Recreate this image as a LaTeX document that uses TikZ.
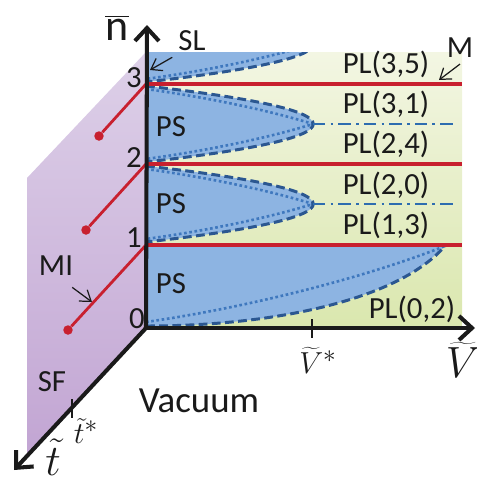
\documentclass[tikz,border=0pt]{standalone}
\usepackage{fontspec}
\setmainfont{Carlito}
\usetikzlibrary{arrows.meta,positioning,calc}
\definecolor{ink}{HTML}{1A1A1A}
\definecolor{redline}{HTML}{C8202F}
\definecolor{lobe}{HTML}{8DB4E2}
\definecolor{lobeedge}{HTML}{2B5791}
\definecolor{lobedot}{HTML}{3F78BE}
\definecolor{dashdot}{HTML}{2E6DB0}
\definecolor{plaintop}{HTML}{F3F6E3}
\definecolor{plainbot}{HTML}{DAE7AE}
\definecolor{sftop}{HTML}{DDD0E8}
\definecolor{sfbot}{HTML}{C2A5D3}
\tikzset{
  >={Straight Barb[length=2.6mm,width=4.8mm]},
  axis/.style={->,draw=ink,line width=2.3pt},
  level/.style={draw=redline,line width=2.2pt},
  mi/.style={draw=redline,line width=1.6pt},
  dot/.style={circle,fill=redline,inner sep=0pt,minimum size=0.19cm},
  lobeline/.style={draw=lobeedge,line width=1.7pt,dash pattern=on 5pt off 2.5pt},
  lobedotted/.style={draw=lobedot,line width=1.5pt,dash pattern=on 1.5pt off 1.5pt},
  split/.style={draw=dashdot,line width=1.2pt,dash pattern=on 7pt off 3pt on 1.5pt off 3pt},
  note/.style={-{Straight Barb[length=2mm,width=2.8mm]},draw=ink,line width=0.7pt},
  tick/.style={draw=ink,line width=1.6pt},
  lbl/.style={font=\fontsize{17.5}{19}\selectfont,text=ink},
  biglbl/.style={font=\fontsize{21}{23}\selectfont,text=ink},
  mathlbl/.style={font=\fontsize{19}{21}\selectfont,text=ink,inner sep=0pt},
  bigmath/.style={font=\fontsize{25}{27}\selectfont,text=ink,inner sep=0pt},
}

\begin{document}
\begin{tikzpicture}[x=0.02cm,y=-0.02cm]
\useasboundingbox (0,0) rectangle (477,481);

% planes -----------------------------------------------------------------------
\shade[top color=sftop,bottom color=sfbot] (146,52) -- (27,178) -- (27,456) -- (146,328) -- cycle;
\shade[top color=plaintop,bottom color=plainbot] (146,52) rectangle (462,328);

% PS lobes ---------------------------------------------------------------------
\begin{scope}
\clip (146,52) rectangle (462,328);
\fill[lobe] (146,6) .. controls (369,31) and (369,57) .. (146,82) -- cycle;
\fill[lobe] (146,86) .. controls (369,111) and (369,137) .. (146,162) -- cycle;
\fill[lobe] (146,166) .. controls (369,191) and (369,217) .. (146,242) -- cycle;
\fill[lobe] (146,245) -- (445,245) .. controls (400,298) and (280,326) .. (146,326) -- cycle;

\draw[lobedotted] (146,9) .. controls (205,17) and (268,30) .. (313,44) .. controls (268,58) and (205,71) .. (146,79);
\draw[lobedotted] (146,89) .. controls (205,97) and (268,110) .. (313,124) .. controls (268,138) and (205,151) .. (146,159);
\draw[lobedotted] (146,169) .. controls (205,177) and (268,190) .. (313,204) .. controls (268,218) and (205,231) .. (146,239);
\draw[lobedotted] (146,322) .. controls (251,307) and (370,276) .. (445,246);

\draw[lobeline] (146,6) .. controls (369,31) and (369,57) .. (146,82);
\draw[lobeline] (146,86) .. controls (369,111) and (369,137) .. (146,162);
\draw[lobeline] (146,166) .. controls (369,191) and (369,217) .. (146,242);
\draw[lobeline] (146,326) .. controls (280,326) and (400,298) .. (445,246);
\end{scope}

\coordinate (tip32) at (313,124);
\coordinate (tip21) at (313,204);
\coordinate (end32) at (457,124);
\coordinate (end21) at (457,204);
\draw[split] (tip32) -- (end32);
\draw[split] (tip21) -- (end21);

% levels and MI lines ----------------------------------------------------------
\coordinate (O) at (146,328);
\coordinate (n1) at (146,245);
\coordinate (n2) at (146,164);
\coordinate (n3) at (146,84);
\coordinate (m1) at (462,245);
\coordinate (m2) at (462,164);
\coordinate (m3) at (462,84);
\draw[level] (n1) -- (m1);
\draw[level] (n2) -- (m2);
\draw[level] (n3) -- (m3);

\node[dot] (d3) at (99,136) {};
\node[dot] (d2) at (86,230) {};
\node[dot] (d1) at (68,330) {};
\draw[mi] (n3) -- (d3);
\draw[mi] (n2) -- (d2);
\draw[mi] (n1) -- (d1);

% axes -------------------------------------------------------------------------
\coordinate (nTop) at (147,25);
\coordinate (vEnd) at (475,328);
\coordinate (tEnd) at (14,470);
\draw[axis] (O) -- (nTop);
\draw[axis] (O) -- (vEnd);
\draw[axis] (O) -- (tEnd);

\coordinate (vsA) at (312,319);
\coordinate (vsB) at (312,338);
\coordinate (tsA) at (72,399);
\coordinate (tsB) at (72,418);
\draw[tick] (vsA) -- (vsB);
\draw[tick] (tsA) -- (tsB);

\node[font=\fontsize{25}{27}\selectfont,text=ink] (nbar) at (117,28) {$\overline{\mbox{n}}$};
\node[lbl] (lab0) at (137,319) {0};
\node[lbl] (lab1) at (134,238) {1};
\node[lbl] (lab2) at (134,158) {2};
\node[lbl] (lab3) at (134,78) {3};

\node[mathlbl] (vstar) at (318,360) {$\widetilde{V}^{*}$};
\node[bigmath] (vlab) at (463,360) {$\widetilde{V}$};
\node[mathlbl] (tstar) at (86,431) {$\tilde{t}^{*}$};
\node[bigmath] (tlab) at (53,457) {$\tilde{t}$};

% region labels ----------------------------------------------------------------
\node[lbl] (pl35) at (386,64) {PL(3,5)};
\node[lbl] (pl31) at (386,104) {PL(3,1)};
\node[lbl] (pl24) at (386,144) {PL(2,4)};
\node[lbl] (pl20) at (386,185) {PL(2,0)};
\node[lbl] (pl13) at (386,225) {PL(1,3)};
\node[lbl] (pl02) at (412,309) {PL(0,2)};
\node[lbl] (ps3) at (171,127) {PS};
\node[lbl] (ps2) at (171,204) {PS};
\node[lbl] (ps1) at (171,284) {PS};
\node[lbl] (sf) at (52,382) {SF};
\node[biglbl] (vac) at (199,401) {Vacuum};

\node[lbl] (sl) at (192,41) {SL};
\coordinate (slTip) at (150,70);
\draw[note] (sl.south west) -- (slTip);
\node[lbl] (mlab) at (460,48) {M};
\coordinate (mTip) at (439,80);
\draw[note] (mlab.south) -- (mTip);
\node[lbl] (milab) at (56,266) {MI};
\coordinate (miTip) at (92,302);
\draw[note] ([xshift=-4pt,yshift=-3pt]milab.south east) -- (miTip);

\end{tikzpicture}
\end{document}
